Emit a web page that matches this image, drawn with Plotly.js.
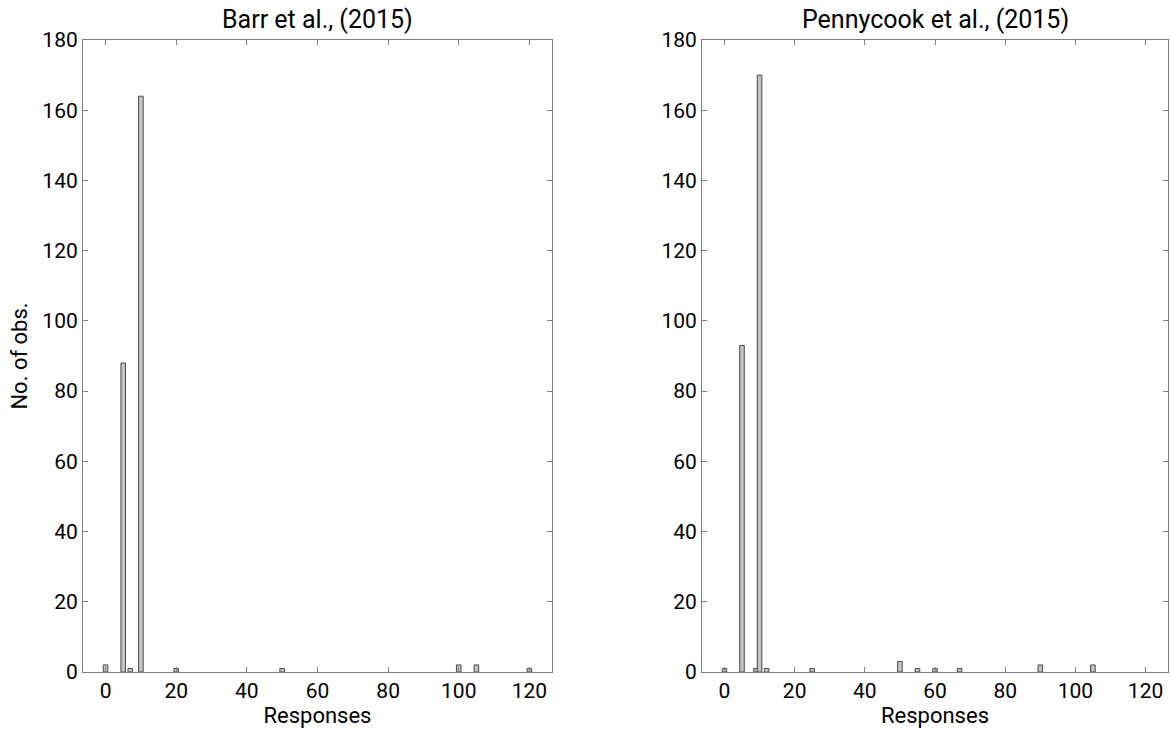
<!DOCTYPE html>
<html><head><meta charset="utf-8">
<script src="https://cdn.plot.ly/plotly-3.0.1.min.js"></script>
<style>html,body{margin:0;padding:0;background:#fff}#chart{width:1170px;height:734px}</style>
</head><body><div id="chart"></div>
<script>
const barrResponses = [0, 5, 7, 10, 20, 50, 100, 105, 120];
const barrCounts    = [2, 88, 1, 164, 1, 1, 2, 2, 1];
const pennyResponses = [0, 5, 9, 10, 12, 25, 50, 55, 60, 67, 90, 105];
const pennyCounts    = [1, 93, 1, 170, 1, 1, 3, 1, 1, 1, 2, 2];
const titles = ["Barr et al., (2015)", "Pennycook et al., (2015)"];
const xTicks = [0, 20, 40, 60, 80, 100, 120];
const yTicks = [0, 20, 40, 60, 80, 100, 120, 140, 160, 180];

const fam = "Roboto, 'Liberation Sans', sans-serif";
const tickFont = {family: fam, size: 21, color: "#000"};
const axFont = {family: fam, size: 22, color: "#000"};
const titleFont = {family: fam, size: 25, color: "#000"};
const barStyle = {color: "#c4c4c4", line: {color: "#4a4a4a", width: 1}};

const traces = [
  {type: "bar", x: barrResponses, y: barrCounts, width: 1.3, marker: barStyle, xaxis: "x", yaxis: "y", hoverinfo: "x+y"},
  {type: "bar", x: pennyResponses, y: pennyCounts, width: 1.3, marker: barStyle, xaxis: "x2", yaxis: "y2", hoverinfo: "x+y"}
];

function xa(domain, anchor) {
  return {domain: domain, anchor: anchor, range: [-6.4, 126.4], tickvals: xTicks, ticktext: xTicks.map(String),
    ticks: "inside", ticklen: 5, tickcolor: "#808080", showline: true, linecolor: "#808080", linewidth: 1,
    mirror: "ticks", showgrid: false, zeroline: false, tickfont: tickFont,
    title: {text: "Responses", font: axFont, standoff: 0}};
}
function ya(anchor, showTitle) {
  const a = {domain: [0.0845, 0.9455], anchor: anchor, range: [0, 180], tickvals: yTicks, ticktext: yTicks.map(String),
    ticks: "inside", ticklen: 5, tickcolor: "#808080", showline: true, linecolor: "#808080", linewidth: 1,
    mirror: "ticks", showgrid: false, zeroline: false, tickfont: tickFont};
  if (showTitle) a.title = {text: "No. of obs.", font: axFont, standoff: 8};
  return a;
}

const layout = {
  width: 1170, height: 734, margin: {l: 0, r: 0, t: 0, b: 0},
  paper_bgcolor: "#fff", plot_bgcolor: "#fff", showlegend: false, font: tickFont, bargap: 0,
  xaxis: xa([0.0709, 0.4718], "y"),
  yaxis: ya("x", true),
  xaxis2: xa([0.6, 0.9983], "y2"),
  yaxis2: ya("x2", false),
  annotations: [
    {text: titles[0], x: 0.27135, y: 0.9455, xref: "paper", yref: "paper", xanchor: "center", yanchor: "bottom", yshift: 4, showarrow: false, font: titleFont},
    {text: titles[1], x: 0.79915, y: 0.9455, xref: "paper", yref: "paper", xanchor: "center", yanchor: "bottom", yshift: 4, showarrow: false, font: titleFont}
  ]
};
Plotly.newPlot("chart", traces, layout, {displayModeBar: false, staticPlot: true});
</script></body></html>
